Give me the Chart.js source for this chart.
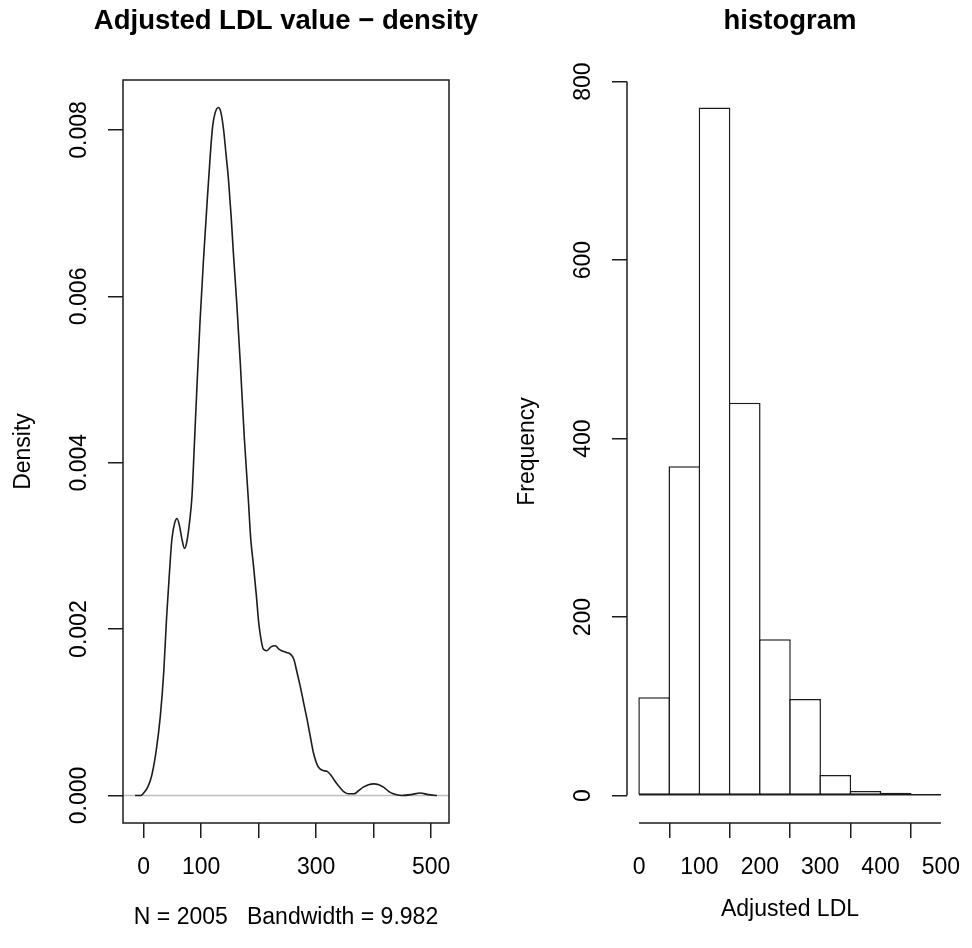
<!DOCTYPE html>
<html lang="en">
<head>
  <meta charset="UTF-8" />
  <title>Adjusted LDL value - density / histogram</title>
  <script src="https://cdn.jsdelivr.net/npm/chart.js"></script>
  <style>
    html, body { margin: 0; padding: 0; background: #fff; overflow: hidden; }
    #wrap { position: relative; width: 972px; height: 948px; overflow: hidden; }
    #wrap canvas { position: absolute; top: 0; }
  </style>
</head>
<body>
  <div id="wrap">
    <canvas id="densityChart" width="486" height="948" style="left:0"></canvas>
    <canvas id="histChart" width="540" height="948" style="left:486px"></canvas>
  </div>

  <script>
    // density curve
    const densityX = [-15, -5, 0, 7, 14, 22, 29, 35, 40, 45, 49, 54, 58, 62, 66, 71, 75, 80, 84, 88,
      92.5, 98, 104, 110, 116, 120, 124, 130, 134, 139, 143, 147.5, 152, 156, 162, 168, 175, 182, 186, 191,
      196, 200, 204, 208, 214, 222, 229, 235, 240, 248, 255, 261, 266, 272, 278, 284, 290, 295, 300, 304,
      312, 319, 325, 330, 336, 342, 349, 356, 366, 374, 382, 391, 400, 409, 417, 426, 434, 449, 465, 481, 495, 510];
    const densityY = [0, 0, 0.00003, 0.0001, 0.00024, 0.00055, 0.00096, 0.0015, 0.00216, 0.0027, 0.00308, 0.00328, 0.00333, 0.00325, 0.0031, 0.00297, 0.00305, 0.0033, 0.0036, 0.0042,
      0.0049, 0.0057, 0.00644, 0.0071, 0.00772, 0.00805, 0.0082, 0.00827, 0.00822, 0.008, 0.00772, 0.0074, 0.00697, 0.00652, 0.0059, 0.0052, 0.0043, 0.00356, 0.0031, 0.00276,
      0.0024, 0.00208, 0.00188, 0.00176, 0.00174, 0.00179, 0.0018, 0.00176, 0.00174, 0.00172, 0.0017, 0.00164, 0.0015, 0.00132, 0.00112, 0.00092, 0.0007, 0.00052, 0.0004, 0.00034,
      0.0003, 0.00029, 0.00025, 0.0002, 0.00014, 0.00009, 0.00004, 0.00002, 0.00002, 0.00006, 0.0001, 0.00013, 0.00014, 0.00013, 0.0001, 0.00005, 0.00002, 0, 0.00001, 0.00003, 0.00001, 0];
    const densityXTicks = [0, 100, 200, 300, 400, 500];
    const densityXLabels = ['0', '100', '', '300', '', '500'];
    const densityYTicks = [0, 0.002, 0.004, 0.006, 0.008];
    const densityYLabels = ['0.000', '0.002', '0.004', '0.006', '0.008'];

    // histogram, breaks every 50
    const binStarts = [0, 50, 100, 150, 200, 250, 300, 350, 400, 450];
    const binWidth = 50;
    const binCounts = [110, 369, 771, 440, 175, 108, 23, 5, 3, 1];
    const histXTicks = [0, 100, 200, 300, 400, 500];
    const histYTicks = [0, 200, 400, 600, 800];

    const FONT = '"Liberation Sans", Arial, Helvetica, sans-serif';
    const INK = '#1c1c1c';

    // R extends the data range by 4% on each side
    const rPad = (lo, hi) => { const d = (hi - lo) * 0.04; return [lo - d, hi + d]; };
    const dXLim = rPad(Math.min(...densityX), Math.max(...densityX));
    const dYLim = rPad(Math.min(...densityY), Math.max(...densityY));
    const hXLim = rPad(binStarts[0], binStarts[binStarts.length - 1] + binWidth);
    const hYLim = rPad(0, Math.max(...binCounts));

    // main title centred over the plot region, and y tick labels
    // written parallel to the axis, like R does
    const rText = {
      id: 'rText',
      afterDraw(chart, args, opts) {
        const {ctx, chartArea: a} = chart;
        const y = chart.scales.y;
        ctx.save();
        ctx.fillStyle = '#000';
        ctx.textAlign = 'center';
        ctx.textBaseline = 'middle';
        ctx.font = `bold 27.5px ${FONT}`;
        ctx.fillText(opts.title, (a.left + a.right) / 2, 21);
        ctx.font = `23px ${FONT}`;
        opts.values.forEach((v, i) => {
          ctx.save();
          ctx.translate(a.left - opts.gap, y.getPixelForValue(v));
          ctx.rotate(-Math.PI / 2);
          ctx.fillText(opts.labels[i], 0, 0);
          ctx.restore();
        });
        ctx.restore();
      }
    };

    const densityFrame = {
      id: 'densityFrame',
      beforeDatasetsDraw(chart) {
        const {ctx, chartArea: a} = chart;
        const y0 = chart.scales.y.getPixelForValue(0);
        ctx.save();
        ctx.strokeStyle = '#bebebe';
        ctx.lineWidth = 1.5;
        ctx.beginPath();
        ctx.moveTo(a.left, y0);
        ctx.lineTo(a.right, y0);
        ctx.stroke();
        ctx.restore();
      },
      afterDraw(chart) {
        const {ctx, chartArea: a} = chart;
        ctx.save();
        ctx.strokeStyle = INK;
        ctx.lineWidth = 1.5;
        ctx.strokeRect(a.left, a.top, a.right - a.left, a.bottom - a.top);
        ctx.restore();
      }
    };

    // hist() axes only run from the first to the last tick;
    // the bars' bottom edges form one baseline across all breaks
    const histAxes = {
      id: 'histAxes',
      afterDraw(chart) {
        const {ctx, chartArea: a, scales} = chart;
        const x = scales.x, y = scales.y;
        ctx.save();
        ctx.strokeStyle = INK;
        ctx.lineWidth = 1.5;
        ctx.beginPath();
        ctx.moveTo(a.left, y.getPixelForValue(histYTicks[0]));
        ctx.lineTo(a.left, y.getPixelForValue(histYTicks[histYTicks.length - 1]));
        ctx.moveTo(x.getPixelForValue(histXTicks[0]), a.bottom);
        ctx.lineTo(x.getPixelForValue(histXTicks[histXTicks.length - 1]), a.bottom);
        const base = y.getPixelForValue(0) - 0.75;
        ctx.moveTo(x.getPixelForValue(binStarts[0]), base);
        ctx.lineTo(x.getPixelForValue(binStarts[binStarts.length - 1] + binWidth), base);
        ctx.stroke();
        ctx.restore();
      }
    };

    const tickGrid = { display: true, drawOnChartArea: false, drawTicks: true, tickLength: 15, color: INK, lineWidth: 1.5 };

    const makeOptions = (cfg) => ({
      responsive: false,
      animation: false,
      layout: { padding: { left: 0, top: 80, bottom: 0, right: cfg.rightPad } },
      plugins: {
        legend: { display: false },
        tooltip: { enabled: false },
        title: { display: false },
        rText: { title: cfg.title, values: cfg.yTicks, labels: cfg.yLabels, gap: 43 }
      },
      scales: {
        x: {
          type: 'linear', min: cfg.xLim[0], max: cfg.xLim[1], offset: false,
          afterBuildTicks: s => { s.ticks = cfg.xTicks.map(v => ({ value: v })); },
          afterFit: s => { s.height = 125; },
          grid: tickGrid,
          border: { display: false },
          ticks: {
            autoSkip: false, maxRotation: 0, padding: 16, color: '#000',
            font: { family: FONT, size: 23 },
            callback: (v, i) => cfg.xLabels[i]
          },
          title: {
            display: true, text: cfg.xTitle, color: '#000',
            font: { family: FONT, size: 23 },
            padding: { top: 0, bottom: cfg.xTitlePad }
          }
        },
        y: {
          type: 'linear', min: cfg.yLim[0], max: cfg.yLim[1],
          afterBuildTicks: s => { s.ticks = cfg.yTicks.map(v => ({ value: v })); },
          afterFit: s => { s.width = cfg.yWidth; },
          grid: tickGrid,
          border: { display: false },
          ticks: { display: false },
          title: {
            display: true, text: cfg.yTitle, color: '#000',
            font: { family: FONT, size: 23 },
            padding: { top: cfg.yTitlePad, bottom: 0 }
          }
        }
      }
    });

    new Chart(document.getElementById('densityChart'), {
      type: 'line',
      data: {
        datasets: [{
          data: densityX.map((x, i) => ({ x, y: densityY[i] })),
          borderColor: INK,
          borderWidth: 1.6,
          pointRadius: 0,
          fill: false,
          cubicInterpolationMode: 'monotone'
        }]
      },
      options: makeOptions({
        title: 'Adjusted LDL value \u2212 density',
        rightPad: 37, yWidth: 123, yTitlePad: 10,
        xLim: dXLim, yLim: dYLim,
        xTicks: densityXTicks, xLabels: densityXLabels,
        yTicks: densityYTicks, yLabels: densityYLabels,
        xTitle: 'N = 2005   Bandwidth = 9.982', xTitlePad: 17,
        yTitle: 'Density'
      }),
      plugins: [densityFrame, rText]
    });

    new Chart(document.getElementById('histChart'), {
      type: 'bar',
      data: {
        datasets: [{
          data: binStarts.map((s, i) => ({ x: s + binWidth / 2, y: binCounts[i] })),
          backgroundColor: '#fff',
          borderColor: INK,
          borderWidth: 1.5,
          borderSkipped: false,
          barPercentage: 1.05,
          categoryPercentage: 1
        }]
      },
      options: makeOptions({
        title: 'histogram',
        rightPad: 73, yWidth: 141, yTitlePad: 28,
        xLim: hXLim, yLim: hYLim,
        xTicks: histXTicks, xLabels: histXTicks.map(String),
        yTicks: histYTicks, yLabels: histYTicks.map(String),
        xTitle: 'Adjusted LDL', xTitlePad: 25,
        yTitle: 'Frequency'
      }),
      plugins: [histAxes, rText]
    });
  </script>
</body>
</html>
